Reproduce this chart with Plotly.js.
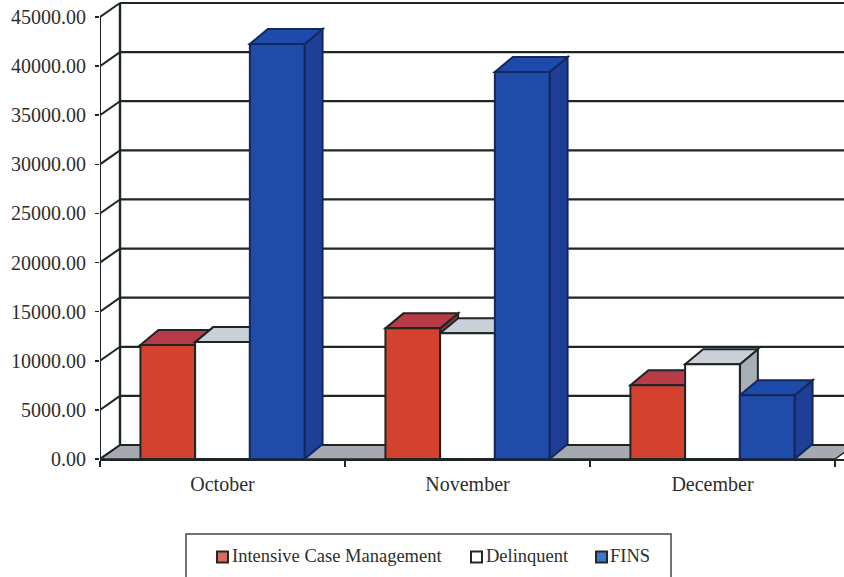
<!DOCTYPE html>
<html>
<head>
<meta charset="utf-8">
<script src="https://cdn.plot.ly/plotly-3.0.1.min.js"></script>
<style>html,body{margin:0;padding:0;background:#fff;overflow:hidden}#c{width:844px;height:577px}</style>
</head>
<body>
<div id="c"></div>
<script>
const months = ["October", "November", "December"];
const intensive = [11600, 13300, 7500];
const delinquent = [11900, 12800, 9650];
const fins = [42250, 39400, 6500];
const yTicks = [0, 5000, 10000, 15000, 20000, 25000, 30000, 35000, 40000, 45000];

const lineColor = "#1d2526";
const seriesStyle = [
  {name: "Intensive Case Management", values: intensive, front: "#d4412f", top: "#b83c48", side: "#8a3a42", edge: lineColor, swatch: "#d96a5c", swatchPx: 217, textPx: 231},
  {name: "Delinquent", values: delinquent, front: "#ffffff", top: "#c9d0d8", side: "#a8aeb6", edge: lineColor, swatch: "#ffffff", swatchPx: 471, textPx: 485},
  {name: "FINS", values: fins, front: "#1f4ca8", top: "#1e4bab", side: "#1d3f98", edge: "#15275c", swatch: "#3a78d0", swatchPx: 596, textPx: 609}
];

const W = 844, H = 577, L = 100, B = 459;
const xMax = (W - L) / 245, yMax = 46731;
const xAt = months.map((m, i) => i + 0.5);
const barGap = 0.33, barW = (1 - barGap) / 3;
const dxBar = 18 / 245, dyBar = 15 * 45000 / 442;
const dxWall = 20 / 245, dyWall = 14 * 45000 / 442;
const px = v => (v - L) / (W - L);
const py = v => (B - v) / B;

function poly(pts, fill, color, width) {
  return {
    type: "path", xref: "x", yref: "y", layer: "below",
    path: "M" + pts.map(p => p[0] + " " + p[1]).join(" L") + " Z",
    fillcolor: fill, line: {color: color, width: width}
  };
}
function seg(x0, y0, x1, y1, w) {
  return {type: "line", xref: "x", yref: "y", layer: "below", x0, y0, x1, y1,
          line: {color: lineColor, width: w}};
}

const shapes = [];
// floor
shapes.push(poly([[0, 0], [3, 0], [3 + dxWall, dyWall], [dxWall, dyWall]], "#a6a9af", lineColor, 1.5));
// walls
yTicks.forEach(v => {
  shapes.push(seg(dxWall, v + dyWall, xMax, v + dyWall, 2.2));
  shapes.push(seg(0, v, dxWall, v + dyWall, 2));
});
shapes.push(seg(dxWall, dyWall, dxWall, 45000 + dyWall, 2.4));
shapes.push(seg(0, 0, 0, 45000, 2));
// depth faces of the bars
months.forEach((m, c) => {
  seriesStyle.forEach((s, k) => {
    const x0 = xAt[c] - 1.5 * barW + k * barW, x1 = x0 + barW, v = s.values[c];
    shapes.push(poly([[x1, 0], [x1 + dxBar, dyBar], [x1 + dxBar, v + dyBar], [x1, v]], s.side, s.edge, 2));
    shapes.push(poly([[x0, v], [x1, v], [x1 + dxBar, v + dyBar], [x0 + dxBar, v + dyBar]], s.top, s.edge, 2));
  });
});
// legend frame and swatches
shapes.push({type: "rect", xref: "paper", yref: "paper", layer: "above",
  x0: px(186), x1: px(671), y0: py(590), y1: py(534),
  fillcolor: "rgba(0,0,0,0)", line: {color: "#444", width: 1.5}});
seriesStyle.forEach(s => {
  shapes.push({type: "rect", xref: "paper", yref: "paper", layer: "above",
    x0: px(s.swatchPx), x1: px(s.swatchPx + 11), y0: py(562.5), y1: py(551.5),
    fillcolor: s.swatch, line: {color: "#262626", width: 2}});
});
const annotations = seriesStyle.map(s => ({
  xref: "paper", yref: "paper", x: px(s.textPx), y: py(556), xanchor: "left", yanchor: "middle",
  text: s.name, showarrow: false, xshift: 0, borderpad: 0,
  font: {family: "Liberation Serif, serif", size: 18.5, color: "#2e2e2e"}
}));

const traces = seriesStyle.map(s => ({
  type: "bar", name: s.name, x: xAt, y: s.values,
  marker: {color: s.front, line: {color: s.edge, width: 2}},
  hoverinfo: "x+y+name"
}));

const layout = {
  width: W, height: H,
  margin: {l: L, r: 0, t: 0, b: H - B, pad: 0},
  paper_bgcolor: "#fff", plot_bgcolor: "rgba(0,0,0,0)",
  font: {family: "Liberation Serif, serif", size: 20, color: "#2e2e2e"},
  barmode: "group", bargap: barGap, bargroupgap: 0,
  showlegend: false,
  xaxis: {
    type: "linear", range: [0, xMax], tickmode: "array", tickvals: xAt, ticktext: months,
    ticks: "", showgrid: false, zeroline: false, showline: true, linecolor: lineColor, linewidth: 2,
    minor: {tickmode: "array", tickvals: [0, 1, 2, 3], ticks: "outside", ticklen: 6, tickcolor: lineColor, tickwidth: 1.5, showgrid: false},
    ticklabelstandoff: 6,
    tickfont: {size: 20}
  },
  yaxis: {
    range: [0, yMax], tickmode: "array", tickvals: yTicks, tickformat: ".2f",
    ticks: "outside", ticklen: 4, tickcolor: lineColor, tickwidth: 1.5,
    showgrid: false, zeroline: false, showline: false,
    ticklabelstandoff: 5,
    tickfont: {size: 20}
  },
  shapes: shapes,
  annotations: annotations
};
Plotly.newPlot("c", traces, layout, {displayModeBar: false, staticPlot: true});
</script>
</body>
</html>
